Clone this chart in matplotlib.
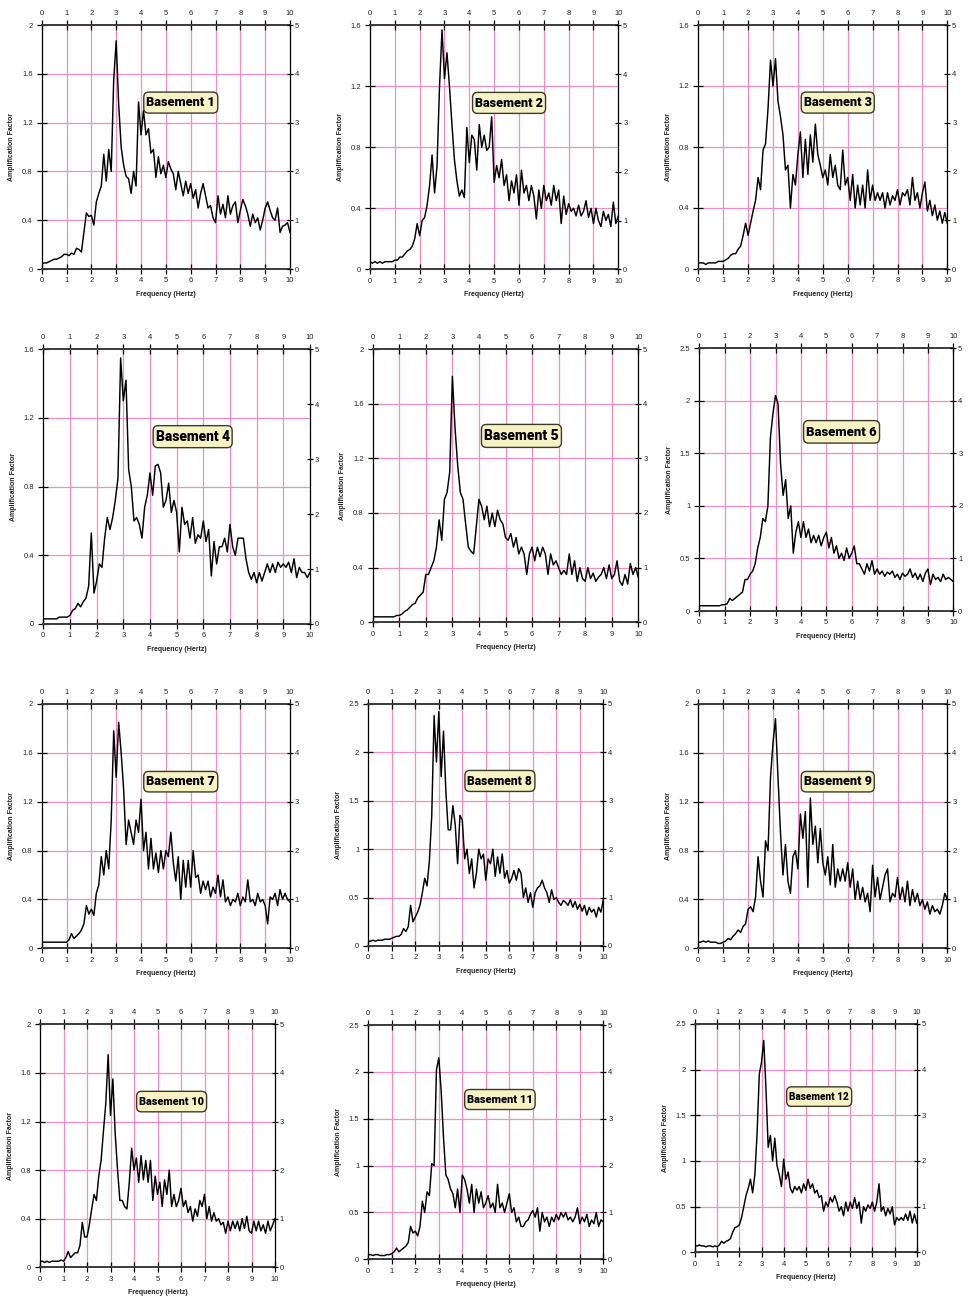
import numpy as np
import matplotlib
matplotlib.use('Agg')
import matplotlib.pyplot as plt
from matplotlib.transforms import Bbox, TransformedBbox, IdentityTransform
from matplotlib.patches import FancyBboxPatch

# ---------------- data ----------------
freq = np.round(np.arange(101) * 0.1, 1)   # Hz, 0.0 .. 10.0

amp_b1 = [0.04,0.05,0.05,0.06,0.07,0.08,0.08,0.09,0.10,0.12,
          0.12,0.11,0.13,0.12,0.17,0.16,0.14,0.30,0.46,0.43,
          0.44,0.36,0.55,0.62,0.68,0.94,0.72,0.98,0.80,1.55,
          1.87,1.35,1.00,0.85,0.76,0.74,0.62,0.80,0.68,1.37,
          1.10,1.30,1.10,1.15,0.95,0.98,0.75,0.92,0.78,0.85,
          0.75,0.88,0.82,0.78,0.65,0.80,0.70,0.60,0.72,0.62,
          0.70,0.58,0.65,0.50,0.62,0.70,0.60,0.50,0.52,0.42,
          0.38,0.60,0.45,0.53,0.42,0.60,0.45,0.52,0.55,0.38,
          0.48,0.57,0.52,0.45,0.35,0.45,0.38,0.42,0.32,0.40,
          0.50,0.55,0.48,0.42,0.40,0.50,0.30,0.35,0.36,0.38,
          0.30]
amp_b2 = [0.05,0.04,0.05,0.04,0.05,0.04,0.05,0.05,0.05,0.05,
          0.06,0.06,0.08,0.08,0.10,0.12,0.13,0.15,0.20,0.30,
          0.22,0.32,0.34,0.42,0.55,0.75,0.50,0.68,1.20,1.57,
          1.25,1.42,1.20,0.95,0.72,0.58,0.48,0.52,0.47,0.93,
          0.70,0.88,0.85,0.65,0.95,0.80,0.88,0.78,0.80,1.00,
          0.57,0.68,0.60,0.72,0.55,0.62,0.45,0.58,0.50,0.62,
          0.42,0.65,0.50,0.55,0.45,0.55,0.48,0.33,0.52,0.40,
          0.55,0.45,0.50,0.42,0.55,0.45,0.52,0.30,0.48,0.36,
          0.43,0.38,0.40,0.35,0.42,0.35,0.38,0.45,0.34,0.40,
          0.30,0.40,0.32,0.28,0.38,0.32,0.36,0.28,0.44,0.30,
          0.35]
amp_b3 = [0.04,0.04,0.04,0.03,0.04,0.04,0.04,0.04,0.05,0.05,
          0.05,0.06,0.07,0.09,0.10,0.10,0.13,0.15,0.22,0.30,
          0.22,0.30,0.38,0.45,0.60,0.52,0.78,0.82,1.05,1.37,
          1.20,1.38,1.10,1.00,0.88,0.65,0.68,0.40,0.62,0.55,
          0.75,0.90,0.60,0.85,0.62,0.88,0.70,0.95,0.75,0.68,
          0.60,0.65,0.55,0.75,0.60,0.68,0.55,0.52,0.78,0.55,
          0.60,0.45,0.62,0.40,0.55,0.42,0.55,0.40,0.65,0.45,
          0.55,0.45,0.50,0.45,0.50,0.40,0.50,0.42,0.48,0.45,
          0.52,0.42,0.50,0.48,0.52,0.42,0.60,0.45,0.50,0.40,
          0.50,0.57,0.38,0.45,0.35,0.42,0.32,0.38,0.30,0.37,
          0.30]
amp_b4 = [0.03,0.03,0.03,0.03,0.03,0.03,0.04,0.04,0.04,0.04,
          0.05,0.08,0.09,0.12,0.10,0.13,0.15,0.22,0.53,0.18,
          0.25,0.35,0.33,0.50,0.62,0.55,0.62,0.72,0.85,1.55,
          1.30,1.42,0.90,0.80,0.60,0.62,0.58,0.50,0.68,0.75,
          0.88,0.75,0.92,0.93,0.88,0.68,0.72,0.82,0.65,0.72,
          0.65,0.42,0.68,0.58,0.60,0.50,0.62,0.47,0.52,0.50,
          0.60,0.48,0.55,0.28,0.48,0.35,0.45,0.45,0.50,0.42,
          0.58,0.45,0.40,0.50,0.50,0.50,0.38,0.30,0.26,0.30,
          0.24,0.30,0.25,0.30,0.35,0.30,0.35,0.30,0.36,0.33,
          0.35,0.33,0.36,0.30,0.38,0.27,0.33,0.30,0.30,0.27,
          0.30]
amp_b5 = [0.04,0.04,0.04,0.04,0.04,0.04,0.04,0.04,0.04,0.05,
          0.05,0.06,0.08,0.09,0.11,0.13,0.14,0.18,0.20,0.22,
          0.35,0.35,0.40,0.45,0.55,0.75,0.60,0.90,0.95,1.10,
          1.80,1.42,1.15,0.95,0.90,0.72,0.55,0.52,0.50,0.70,
          0.90,0.85,0.75,0.85,0.70,0.80,0.70,0.82,0.75,0.72,
          0.62,0.60,0.65,0.55,0.62,0.50,0.55,0.50,0.35,0.50,
          0.55,0.45,0.55,0.48,0.55,0.50,0.35,0.50,0.42,0.45,
          0.40,0.35,0.38,0.35,0.50,0.35,0.45,0.30,0.40,0.32,
          0.30,0.40,0.32,0.36,0.30,0.33,0.35,0.40,0.32,0.42,
          0.32,0.35,0.45,0.30,0.27,0.35,0.28,0.43,0.35,0.40,
          0.33]
amp_b6 = [0.05,0.05,0.05,0.05,0.05,0.05,0.05,0.05,0.05,0.06,
          0.06,0.07,0.12,0.10,0.12,0.14,0.16,0.18,0.30,0.30,
          0.35,0.38,0.45,0.60,0.70,0.88,0.85,1.00,1.65,1.88,
          2.05,1.97,1.40,1.10,1.25,0.88,1.00,0.55,0.75,0.85,
          0.70,0.85,0.70,0.78,0.65,0.72,0.65,0.72,0.62,0.70,
          0.75,0.60,0.70,0.55,0.62,0.50,0.55,0.48,0.60,0.50,
          0.55,0.62,0.45,0.45,0.40,0.35,0.45,0.38,0.48,0.35,
          0.40,0.35,0.38,0.33,0.37,0.35,0.38,0.32,0.35,0.30,
          0.36,0.33,0.35,0.40,0.32,0.36,0.30,0.35,0.28,0.36,
          0.40,0.25,0.35,0.30,0.32,0.28,0.35,0.30,0.32,0.30,
          0.28]
amp_b7 = [0.05,0.05,0.05,0.05,0.05,0.05,0.05,0.05,0.05,0.05,
          0.05,0.07,0.12,0.08,0.10,0.12,0.15,0.20,0.35,0.28,
          0.32,0.27,0.45,0.52,0.75,0.60,0.80,0.65,1.05,1.78,
          1.40,1.85,1.60,1.30,0.85,1.05,0.95,0.85,1.05,0.95,
          1.22,0.80,0.95,0.65,0.90,0.65,0.78,0.62,0.80,0.65,
          0.80,0.75,0.95,0.70,0.55,0.75,0.40,0.72,0.50,0.72,
          0.50,0.80,0.58,0.60,0.45,0.55,0.48,0.55,0.42,0.50,
          0.45,0.60,0.42,0.56,0.38,0.42,0.35,0.40,0.38,0.45,
          0.35,0.42,0.38,0.56,0.38,0.40,0.35,0.45,0.38,0.40,
          0.35,0.20,0.42,0.40,0.45,0.35,0.48,0.40,0.45,0.40,
          0.38]
amp_b8 = [0.05,0.05,0.06,0.05,0.06,0.06,0.06,0.07,0.07,0.07,
          0.08,0.09,0.10,0.10,0.12,0.18,0.15,0.20,0.42,0.25,
          0.30,0.35,0.42,0.55,0.70,0.62,0.88,1.35,2.38,1.90,
          2.42,1.75,2.22,1.60,1.20,1.20,1.45,1.25,0.85,1.35,
          1.30,0.90,1.00,0.75,0.90,0.60,0.75,1.00,0.90,0.95,
          0.68,0.90,0.85,1.00,0.72,0.92,0.75,0.95,0.70,0.78,
          0.65,0.70,0.78,0.68,0.80,0.75,0.50,0.60,0.45,0.55,
          0.40,0.55,0.60,0.62,0.68,0.60,0.55,0.45,0.58,0.48,
          0.50,0.45,0.42,0.47,0.45,0.42,0.48,0.40,0.46,0.38,
          0.43,0.36,0.42,0.32,0.40,0.35,0.38,0.30,0.40,0.35,
          0.48]
amp_b9 = [0.05,0.05,0.06,0.05,0.06,0.05,0.05,0.05,0.04,0.04,
          0.05,0.06,0.08,0.07,0.10,0.12,0.15,0.13,0.18,0.20,
          0.32,0.34,0.30,0.42,0.75,0.55,0.42,0.88,0.80,1.40,
          1.68,1.88,1.40,0.95,0.60,0.85,0.55,0.45,0.75,0.80,
          0.65,1.10,0.90,1.12,0.50,1.23,0.85,1.00,0.70,0.98,
          0.70,0.60,0.75,0.52,0.85,0.50,0.65,0.55,0.65,0.55,
          0.70,0.50,0.65,0.40,0.55,0.40,0.50,0.38,0.45,0.30,
          0.68,0.42,0.58,0.40,0.50,0.60,0.65,0.38,0.45,0.42,
          0.58,0.40,0.50,0.38,0.55,0.35,0.48,0.38,0.45,0.35,
          0.40,0.32,0.38,0.28,0.35,0.30,0.32,0.28,0.35,0.45,
          0.40]
amp_b10 = [0.05,0.05,0.04,0.05,0.04,0.05,0.05,0.05,0.05,0.06,
           0.05,0.08,0.13,0.08,0.10,0.12,0.12,0.18,0.37,0.25,
           0.25,0.35,0.48,0.60,0.55,0.75,0.88,1.12,1.35,1.75,
           1.25,1.55,1.10,0.80,0.55,0.55,0.50,0.48,0.70,0.98,
           0.80,0.90,0.70,0.92,0.72,0.88,0.70,0.88,0.55,0.75,
           0.60,0.70,0.50,0.72,0.60,0.80,0.50,0.60,0.50,0.55,
           0.65,0.50,0.55,0.45,0.50,0.38,0.48,0.42,0.55,0.50,
           0.60,0.40,0.50,0.38,0.45,0.38,0.40,0.35,0.37,0.28,
           0.38,0.30,0.38,0.32,0.38,0.30,0.40,0.32,0.42,0.30,
           0.28,0.38,0.30,0.38,0.30,0.35,0.28,0.38,0.30,0.35,
           0.40]
amp_b11 = [0.05,0.05,0.04,0.05,0.05,0.04,0.04,0.04,0.05,0.05,
           0.06,0.08,0.12,0.08,0.10,0.12,0.14,0.18,0.35,0.28,
           0.30,0.25,0.35,0.62,0.50,0.72,0.68,1.02,1.00,2.02,
           2.15,1.80,1.30,0.90,0.85,0.75,0.70,0.55,0.75,0.50,
           0.90,0.85,0.75,0.60,0.80,0.50,0.75,0.60,0.72,0.55,
           0.60,0.68,0.55,0.60,0.50,0.80,0.55,0.60,0.50,0.60,
           0.70,0.50,0.55,0.40,0.45,0.35,0.35,0.40,0.42,0.48,
           0.52,0.45,0.55,0.30,0.50,0.40,0.45,0.35,0.45,0.40,
           0.48,0.42,0.50,0.45,0.50,0.42,0.45,0.40,0.45,0.55,
           0.38,0.45,0.40,0.48,0.35,0.42,0.38,0.50,0.35,0.42,
           0.40]
amp_b12 = [0.07,0.07,0.08,0.07,0.07,0.06,0.07,0.07,0.06,0.07,
           0.06,0.08,0.12,0.10,0.12,0.13,0.15,0.22,0.27,0.28,
           0.30,0.38,0.50,0.62,0.70,0.80,0.65,0.85,1.30,1.95,
           2.08,2.32,1.80,1.15,1.28,1.00,1.25,0.95,0.85,0.72,
           1.02,0.80,0.88,0.70,0.65,0.72,0.68,0.72,0.65,0.75,
           0.68,0.80,0.70,0.75,0.65,0.68,0.60,0.62,0.45,0.55,
           0.50,0.60,0.55,0.62,0.55,0.45,0.50,0.40,0.55,0.45,
           0.55,0.48,0.60,0.48,0.55,0.32,0.50,0.45,0.52,0.48,
           0.55,0.45,0.55,0.75,0.45,0.50,0.40,0.48,0.42,0.50,
           0.30,0.38,0.35,0.38,0.35,0.42,0.35,0.45,0.32,0.42,
           0.32]

series = [amp_b1, amp_b2, amp_b3, amp_b4, amp_b5, amp_b6,
          amp_b7, amp_b8, amp_b9, amp_b10, amp_b11, amp_b12]
titles = ['Basement %d' % i for i in range(1, 13)]
y_max = [2.0, 1.6, 1.6, 1.6, 2.0, 2.5, 2.0, 2.5, 2.0, 2.0, 2.5, 2.5]
x_ticks = list(range(0, 11))
right_ticks = [0, 1, 2, 3, 4, 5]
x_label = 'Frequency (Hertz)'
y_label = 'Amplification Factor'

# ---------------- layout (pixel boxes: left, right, top, bottom) ----------------
W, H = 971, 1298
boxes = [(41.7, 290.0, 25.0, 269.0), (370.0, 618.3, 25.3, 269.3), (698.3, 947.3, 25.0, 269.0),
         (43.3, 310.0, 349.3, 624.0), (372.7, 638.3, 349.0, 622.3), (699.3, 953.3, 348.3, 611.0),
         (41.7, 290.0, 704.0, 948.3), (368.3, 603.3, 704.0, 946.0), (698.3, 947.3, 704.0, 948.3),
         (40.0, 275.0, 1024.3, 1267.3), (368.3, 603.3, 1025.0, 1259.3), (695.0, 916.7, 1024.0, 1252.3)]
# label box size in pixels (width, height)
label_box = [(74, 21), (73, 21), (73, 21), (79, 22), (80, 23), (76, 22.5),
             (74, 20.5), (70, 21), (73, 20.5), (70, 20.5), (70.5, 20), (65, 19.5)]
clip_right = {3: 321.5, 4: 652.0, 5: 967.0}

GRID = '#f08cc6'
TICKFONT = dict(family='Liberation Sans', size=5.5)

fig = plt.figure(figsize=(W / 100, H / 100), dpi=100)
fig.patch.set_facecolor('white')

title_texts = []
for i, amp in enumerate(series):
    l, r, t, b = boxes[i]
    ax = fig.add_axes([l / W, 1 - b / H, (r - l) / W, (b - t) / H])
    ymax = y_max[i]
    step = 0.5 if ymax == 2.5 else 0.4
    yt = [round(k * step, 2) for k in range(int(round(ymax / step)) + 1)]

    for xv in x_ticks[1:-1]:
        ax.axvline(xv, color=GRID, lw=0.9, zorder=1)
    for yv in yt[1:-1]:
        ax.axhline(yv, color=GRID, lw=0.9, zorder=1)

    ax.plot(freq, amp, color='black', lw=1.05, zorder=3)
    ax.set_xlim(0, 10)
    ax.set_ylim(0, ymax)

    ax.set_xticks(x_ticks)
    ax.set_xticklabels([str(v) for v in x_ticks], fontdict=TICKFONT, color='#222')
    ax.set_yticks(yt)
    ax.set_yticklabels(['%g' % v for v in yt], fontdict=TICKFONT, color='#222')
    ax.tick_params(axis='x', which='both', top=True, labeltop=True, bottom=True,
                   direction='inout', length=7, width=0.9, pad=2.5)
    ax.tick_params(axis='y', which='both', left=True, right=False, direction='inout',
                   length=7, width=0.9, pad=3)

    for s in ['left', 'right']:
        ax.spines[s].set_color('black')
        ax.spines[s].set_linewidth(0.9)
    for s in ['top', 'bottom']:
        ax.spines[s].set_color('#3a3a3a')
        ax.spines[s].set_linewidth(1.4)

    ax2 = ax.twinx()
    ax2.set_ylim(0, 5)
    ax2.set_yticks(right_ticks)
    ax2.set_yticklabels([str(v) for v in right_ticks], fontdict=TICKFONT, color='#222')
    ax2.tick_params(axis='y', direction='inout', length=5, width=0.9, pad=1)
    for s in ax2.spines.values():
        s.set_visible(False)
    if i in clip_right:
        cb = TransformedBbox(Bbox.from_extents(0, 0, clip_right[i] / W, 1), fig.transFigure)
        for lab in ax2.get_yticklabels():
            lab.set_clip_box(cb)
            lab.set_clip_on(True)

    ax.annotate(x_label, xy=(0.5, 0), xycoords='axes fraction', xytext=(0, -18.5),
                textcoords='offset points', ha='center', va='center',
                fontsize=5, fontweight='bold', family='Liberation Sans', color='#222')
    ax.annotate(y_label, xy=(0, 0.5), xycoords='axes fraction', xytext=(-21.5, 0),
                textcoords='offset points', ha='center', va='center', rotation=90,
                fontsize=5, fontweight='bold', family='Liberation Sans', color='#222')

    # label box (pixel geometry)
    bw, bh = label_box[i]
    cx = l + 0.56 * (r - l)
    cy = H - (b - 0.682 * (b - t))
    patch = FancyBboxPatch((cx - bw / 2, cy - bh / 2), bw, bh,
                           boxstyle='round,pad=0,rounding_size=5',
                           transform=IdentityTransform(), fc='#f6f2c4', ec='#3a3a2a',
                           lw=1.0, zorder=6)
    fig.add_artist(patch)
    txt = fig.text(cx / W, cy / H - 0.3 / H, titles[i], ha='center', va='center',
                   fontsize=11.5, fontweight='black', family='Roboto',
                   color='black', zorder=7)
    title_texts.append((txt, bw - 5, bh))

# shrink the label text to fit its box
fig.canvas.draw()
renderer = fig.canvas.get_renderer()
for txt, tw, bh in title_texts:
    ext = txt.get_window_extent(renderer)
    if ext.width > tw:
        txt.set_fontsize(txt.get_fontsize() * tw / ext.width)

fig.savefig('out.png', dpi=100, facecolor='white')
